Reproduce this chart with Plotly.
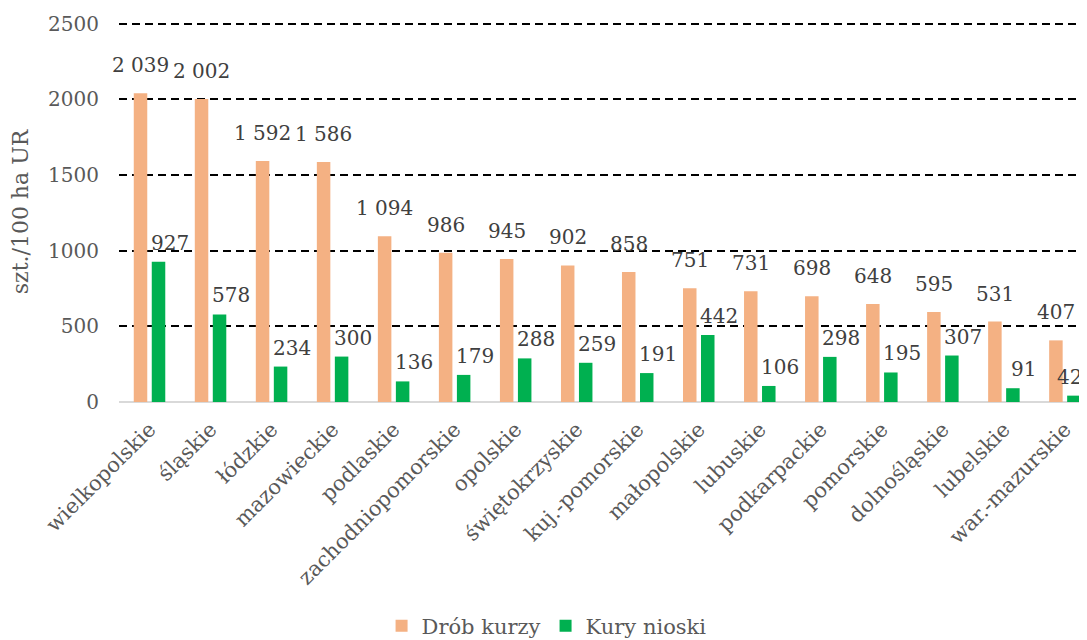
import plotly.graph_objects as go

categories = ["wielkopolskie", "śląskie", "łódzkie", "mazowieckie", "podlaskie",
              "zachodniopomorskie", "opolskie", "świętokrzyskie", "kuj.-pomorskie",
              "małopolskie", "lubuskie", "podkarpackie", "pomorskie", "dolnośląskie",
              "lubelskie", "war.-mazurskie"]
drob_kurzy = [2039, 2002, 1592, 1586, 1094, 986, 945, 902, 858, 751, 731, 698, 648, 595, 531, 407]
kury_nioski = [927, 578, 234, 300, 136, 179, 288, 259, 191, 442, 106, 298, 195, 307, 91, 42]
y_ticks = [0, 500, 1000, 1500, 2000, 2500]

FONT = "DejaVu Serif"
ORANGE = "#F4B183"
GREEN = "#00B050"


def fmt(v):
    return f"{v:,}".replace(",", " ")


fig = go.Figure()
fig.add_trace(go.Bar(name="Drób kurzy", x=categories, y=drob_kurzy,
                     marker=dict(color=ORANGE, line=dict(width=0))))
fig.add_trace(go.Bar(name="Kury nioski", x=categories, y=kury_nioski,
                     marker=dict(color=GREEN, line=dict(width=0))))

annotations = []
for c, v in zip(categories, drob_kurzy):
    annotations.append(dict(x=c, y=v, xref="x", yref="y", text=fmt(v), showarrow=False,
                            xanchor="center", yanchor="bottom", xshift=-9, yshift=14,
                            font=dict(family=FONT, size=20, color="#404040")))
n = len(categories)
for i, (c, v) in enumerate(zip(categories, kury_nioski)):
    last = i == n - 1
    annotations.append(dict(x=c, y=v, xref="x", yref="y", text=fmt(v), showarrow=False,
                            xanchor="right" if last else "center", yanchor="bottom",
                            xshift=19 if last else 20, yshift=5,
                            font=dict(family=FONT, size=20, color="#404040")))

# page body has an 8px margin, so the figure is sized and placed to compensate
fig.update_layout(
    width=1079, height=632,
    margin=dict(l=111, r=5, t=14, b=238, autoexpand=False),
    paper_bgcolor="white", plot_bgcolor="white",
    barmode="group", bargap=0.41, bargroupgap=0.25,
    font=dict(family=FONT, size=20, color="#595959"),
    showlegend=True,
    legend=dict(orientation="h", x=0.444, xanchor="center", y=-0.59, yanchor="middle",
                font=dict(family=FONT, size=21, color="#595959"),
                itemwidth=30, traceorder="normal"),
    annotations=annotations,
    xaxis=dict(type="category", range=[-0.5, 15.28], tickangle=-45,
               showline=False, showgrid=False, ticks="", ticklabelstandoff=10,
               tickfont=dict(family=FONT, size=21, color="#595959")),
    yaxis=dict(range=[0, 2510], tickvals=y_ticks, ticktext=[str(t) for t in y_ticks],
               showgrid=True, gridcolor="black", gridwidth=1.5, griddash="8px,5px",
               zeroline=True, zerolinecolor="#D9D9D9", zerolinewidth=2,
               showline=False, ticks="", ticklabelstandoff=19,
               tickfont=dict(family=FONT, size=20, color="#595959"),
               title=dict(text="szt./100 ha UR", standoff=14,
                          font=dict(family=FONT, size=22, color="#595959")),
               automargin=False),
)

fig.write_html("out.html")
